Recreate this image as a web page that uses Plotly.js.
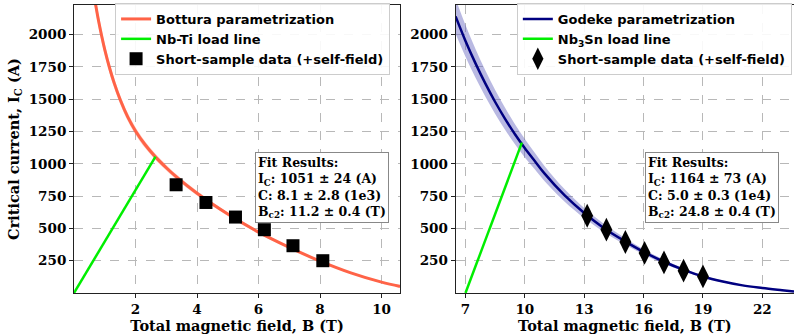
<!DOCTYPE html>
<html>
<head>
<meta charset="utf-8">
<script src="https://cdn.plot.ly/plotly-3.0.1.min.js"></script>
<style>html,body{margin:0;padding:0;background:#fff;}#chart{width:794px;height:334px;}</style>
</head>
<body>
<div id="chart"></div>
<script>
// ---- Nb-Ti (left) ----
const bFitNbTi = [0.65, 0.7, 0.8, 0.9, 1.0, 1.15, 1.3, 1.5, 1.75, 2.0, 2.32, 2.64, 3.0, 3.32, 4.0, 5.0, 6.0, 7.0, 8.0, 9.0, 10.0, 10.6];
const icFitNbTi = [2308, 2237, 2106, 1990, 1885, 1748, 1631, 1498, 1362, 1255, 1146, 1056, 970, 901, 772, 611, 471, 353, 247, 156, 84, 51];
const icFitNbTiHi = [2361, 2288, 2154, 2036, 1928, 1788, 1669, 1532, 1393, 1284, 1172, 1080, 992, 922, 790, 625, 482, 361, 253, 160, 86, 52];
const icFitNbTiLo = [2255, 2186, 2058, 1944, 1842, 1708, 1593, 1464, 1331, 1226, 1120, 1032, 948, 880, 754, 597, 460, 345, 241, 152, 82, 50];
const bLoadNbTi = [0, 2.65];
const icLoadNbTi = [0, 1056];
const bDataNbTi = [3.32, 4.29, 5.25, 6.19, 7.12, 8.09];
const icDataNbTi = [838, 701, 588, 490, 366, 250];

// ---- Nb3Sn (right) ----
const bFitNb3Sn = [6.5, 7, 7.5, 8, 8.5, 9, 9.5, 10, 10.5, 11, 12, 13, 14, 15, 16, 17, 18, 19, 20, 21, 22, 23, 23.6];
const icFitNb3Sn = [2142, 1952, 1780, 1623, 1479, 1349, 1229, 1121, 1022, 924, 757, 619, 502, 406, 319, 244, 181, 128, 89, 59, 39, 22, 12];
const icFitNb3SnHi = [2277, 2075, 1892, 1725, 1572, 1434, 1306, 1192, 1086, 982, 805, 658, 534, 432, 339, 259, 192, 136, 95, 63, 41, 23, 13];
const icFitNb3SnLo = [2007, 1829, 1668, 1521, 1386, 1264, 1152, 1050, 958, 866, 709, 580, 470, 380, 299, 229, 170, 120, 83, 55, 37, 21, 11];
const bLoadNb3Sn = [7, 9.85];
const icLoadNb3Sn = [0, 1164];
const bDataNb3Sn = [13.15, 14.12, 15.08, 16.05, 17.03, 18.02, 19.0];
const icDataNb3Sn = [598, 490, 395, 310, 237, 173, 128];

// ---- ticks & labels ----
const yTicks = [250, 500, 750, 1000, 1250, 1500, 1750, 2000];
const xTicksNbTi = [2, 4, 6, 8, 10];
const xTicksNb3Sn = [7, 10, 13, 16, 19, 22];
const fitTextNbTi = ["Fit Results:", "I<sub>C</sub>: 1051 ± 24 (A)", "C: 8.1 ± 2.8 (1e3)", "B<sub>c2</sub>: 11.2 ± 0.4 (T)"];
const fitTextNb3Sn = ["Fit Results:", "I<sub>C</sub>: 1164 ± 73 (A)", "C: 5.0 ± 0.3 (1e4)", "B<sub>c2</sub>: 24.8 ± 0.4 (T)"];

const serif = {family: "DejaVu Serif", size: 13.5, color: "#000", weight: "bold"};
const sans = {family: "DejaVu Sans", size: 13, color: "#000", weight: "bold"};

const traces = [
  {x: bFitNbTi, y: icFitNbTiLo, mode: "lines", line: {width: 0, shape: "spline"}, hoverinfo: "skip", showlegend: false, xaxis: "x", yaxis: "y"},
  {x: bFitNbTi, y: icFitNbTiHi, mode: "lines", fill: "tonexty", fillcolor: "rgba(255,99,71,0.3)", line: {width: 0, shape: "spline"}, hoverinfo: "skip", showlegend: false, xaxis: "x", yaxis: "y"},
  {x: bFitNbTi, y: icFitNbTi, mode: "lines", name: "Bottura parametrization", line: {color: "#ff6347", width: 3, shape: "spline"}, xaxis: "x", yaxis: "y", legend: "legend"},
  {x: bLoadNbTi, y: icLoadNbTi, mode: "lines", name: "Nb-Ti load line", line: {color: "#00ee00", width: 2.5}, xaxis: "x", yaxis: "y", legend: "legend"},
  {x: bDataNbTi, y: icDataNbTi, mode: "markers", name: "Short-sample data (+self-field)", marker: {symbol: "square", size: 13, color: "#000"}, xaxis: "x", yaxis: "y", legend: "legend"},

  {x: bFitNb3Sn, y: icFitNb3SnLo, mode: "lines", line: {width: 0, shape: "spline"}, hoverinfo: "skip", showlegend: false, xaxis: "x2", yaxis: "y2"},
  {x: bFitNb3Sn, y: icFitNb3SnHi, mode: "lines", fill: "tonexty", fillcolor: "rgba(100,100,190,0.45)", line: {width: 0, shape: "spline"}, hoverinfo: "skip", showlegend: false, xaxis: "x2", yaxis: "y2"},
  {x: bFitNb3Sn, y: icFitNb3Sn, mode: "lines", name: "Godeke parametrization", line: {color: "#000080", width: 2.5, shape: "spline"}, xaxis: "x2", yaxis: "y2", legend: "legend2"},
  {x: bLoadNb3Sn, y: icLoadNb3Sn, mode: "lines", name: "Nb<sub>3</sub>Sn load line", line: {color: "#00ee00", width: 2.5}, xaxis: "x2", yaxis: "y2", legend: "legend2"},
  {x: bDataNb3Sn, y: icDataNb3Sn, mode: "markers", name: "Short-sample data (+self-field)", marker: {symbol: "diamond-tall", size: 17, color: "#000"}, xaxis: "x2", yaxis: "y2", legend: "legend2"}
];

const axisCommon = {
  showline: true, linecolor: "#222", linewidth: 1, mirror: true,
  ticks: "outside", ticklen: 4, tickcolor: "#222", tickwidth: 1,
  showgrid: true, gridcolor: "#b8b8b8", griddash: "dash", gridwidth: 1,
  zeroline: false, tickfont: serif
};

const legendCommon = {
  font: sans, bgcolor: "rgba(255,255,255,0.9)", bordercolor: "#cccccc", borderwidth: 1,
  xanchor: "right", yanchor: "top", tracegroupgap: 0, traceorder: "normal"
};

const titleFont = Object.assign({}, serif, {size: 14.5});

const layout = {
  width: 794, height: 334,
  margin: {l: 74, r: 0, t: 5, b: 41},
  paper_bgcolor: "#fff", plot_bgcolor: "#fff",
  showlegend: true,
  xaxis: Object.assign({}, axisCommon, {domain: [0, 0.4528], range: [0, 10.6], tickvals: xTicksNbTi,
    title: {text: "Total magnetic field, B (T)", font: titleFont, standoff: 1}}),
  yaxis: Object.assign({}, axisCommon, {range: [0, 2230], tickvals: yTicks,
    title: {text: "Critical current, I<sub>C</sub> (A)", font: titleFont, standoff: 5}}),
  xaxis2: Object.assign({}, axisCommon, {domain: [0.530, 1], range: [6.5, 23.6], tickvals: xTicksNb3Sn, anchor: "y2",
    title: {text: "Total magnetic field, B (T)", font: titleFont, standoff: 1}}),
  yaxis2: Object.assign({}, axisCommon, {range: [0, 2230], tickvals: yTicks, anchor: "x2"}),
  legend: Object.assign({}, legendCommon, {x: 0.439, y: 1.007}),
  legend2: Object.assign({}, legendCommon, {x: 0.997, y: 1.007}),
  annotations: [
    {xref: "paper", yref: "paper", x: 0.2514, y: 0.489, xanchor: "left", yanchor: "top", align: "left",
     text: fitTextNbTi.join("<br>"), showarrow: false, font: Object.assign({}, serif, {size: 12.5}),
     bgcolor: "#fff", bordercolor: "#888", borderwidth: 1, borderpad: 2},
    {xref: "paper", yref: "paper", x: 0.793, y: 0.489, xanchor: "left", yanchor: "top", align: "left",
     text: fitTextNb3Sn.join("<br>"), showarrow: false, font: Object.assign({}, serif, {size: 12.5}),
     bgcolor: "#fff", bordercolor: "#888", borderwidth: 1, borderpad: 2}
  ]
};

Plotly.newPlot("chart", traces, layout, {displayModeBar: false, staticPlot: true});
</script>
</body>
</html>
